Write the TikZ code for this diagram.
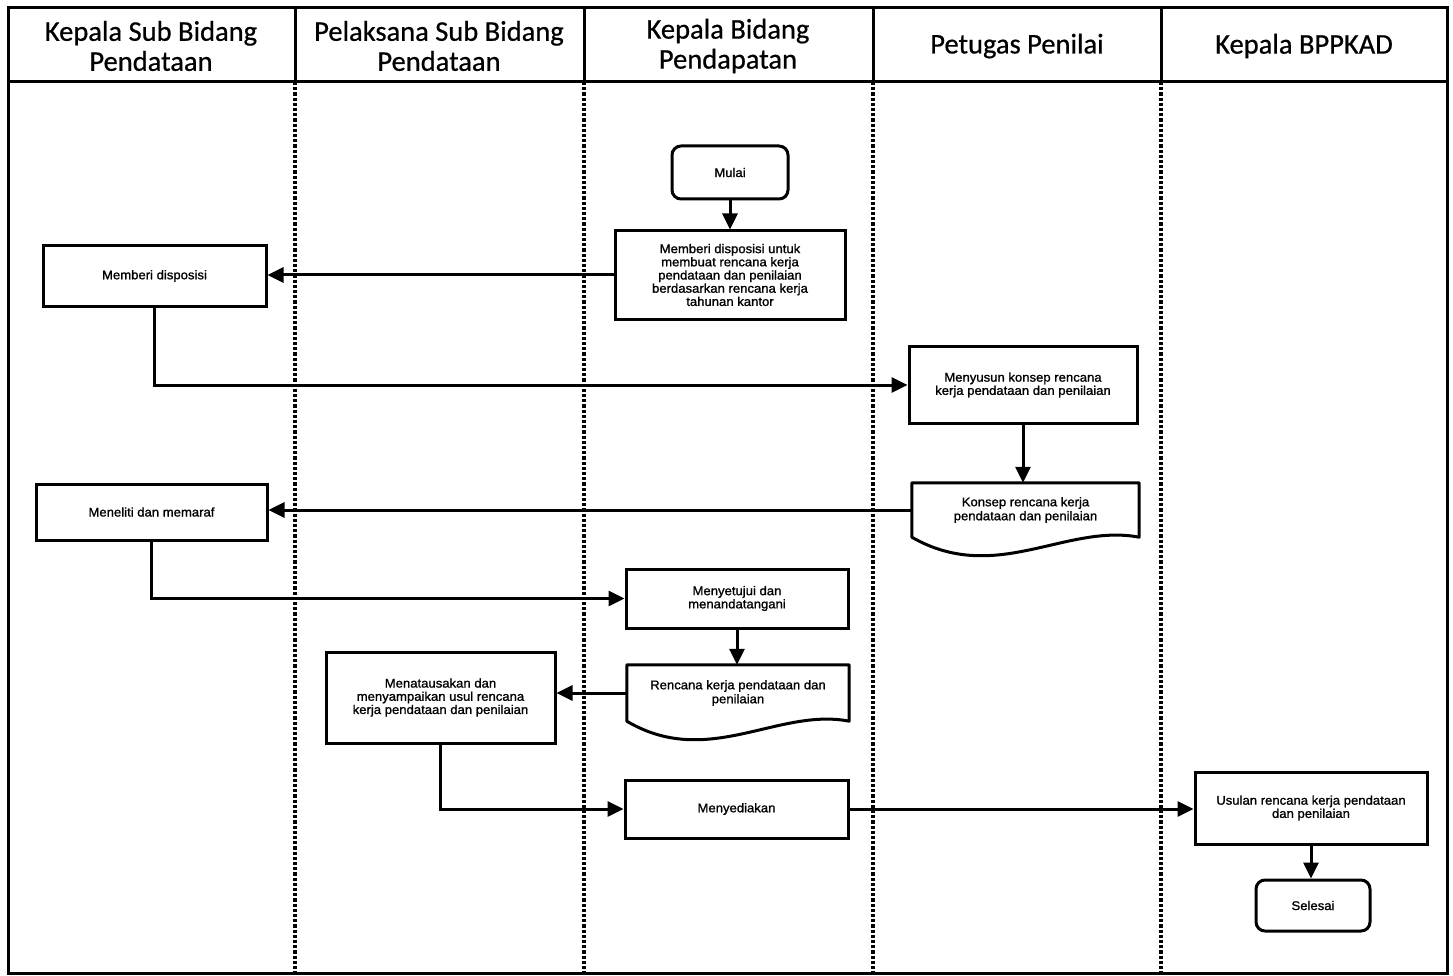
\documentclass[tikz,border=0pt]{standalone}
\usepackage{fontspec}
\usetikzlibrary{arrows.meta,calc}
\newfontfamily\headfont{Carlito}[FakeBold=0.6]
\newfontfamily\boxfont{Liberation Sans}[FakeStretch=1.04,FakeBold=1.2]

\begin{document}
\begin{tikzpicture}[x=1pt,y=-1pt,
  frame/.style={line width=3pt},
  lane/.style={line width=3.2pt, dash pattern=on 3.2pt off 2pt},
  head/.style={align=center, font=\headfont\fontsize{28.5}{30}\selectfont, inner sep=0pt},
  proc/.style={draw, line width=3pt, fill=white, align=center,
               font=\boxfont\fontsize{12.6}{13.2}\selectfont, inner sep=2pt},
  term/.style={proc, rounded corners=9pt},
  docnode/.style={align=center, font=\boxfont\fontsize{12.6}{14}\selectfont, inner sep=0pt},
  flow/.style={line width=3pt, -{Triangle[length=16pt,width=15pt]}}
]
\useasboundingbox (0,0) rectangle (1453,976);

% swimlane frame and header
\draw[frame] (8,8) rectangle (1447,973);
\draw[frame] (8,82) -- (1447,82);
\foreach \xx in {295,584,873,1161} {
  \draw[frame] (\xx,8) -- (\xx,82);
  \draw[lane] (\xx,82) -- (\xx,973);
}
\node[head] (h1) at (151,46) {Kepala Sub Bidang\\Pendataan};
\node[head] (h2) at (439,46) {Pelaksana Sub Bidang\\Pendataan};
\node[head] (h3) at (728,46) {Kepala Bidang\\Pendapatan};
\node[head] (h4) at (1017,46) {Petugas Penilai};
\node[head] (h5) at (1304,46) {Kepala BPPKAD};

% process steps
\node[term, minimum width=116pt, minimum height=53pt] (mulai) at (730,172.5) {Mulai};
\node[proc, minimum width=230pt, minimum height=88pt] (dispo) at (730,275)
  {Memberi disposisi untuk\\membuat rencana kerja\\pendataan dan penilaian\\berdasarkan rencana kerja\\tahunan kantor};
\node[proc, minimum width=223pt, minimum height=61pt] (beri) at (154.5,276) {Memberi disposisi};
\node[proc, minimum width=228pt, minimum height=77pt] (susun) at (1023,385)
  {Menyusun konsep rencana\\kerja pendataan dan penilaian};
\node[docnode, minimum width=227pt, minimum height=54pt] (konsep) at (1025.5,510)
  {Konsep rencana kerja\\pendataan dan penilaian};
\node[proc, minimum width=231pt, minimum height=56pt] (teliti) at (151.5,512) {Meneliti dan memaraf};
\node[proc, minimum width=222pt, minimum height=59pt] (setuju) at (737,598.5)
  {Menyetujui dan\\menandatangani};
\node[docnode, minimum width=222pt, minimum height=56pt] (renja) at (738,693)
  {Rencana kerja pendataan dan\\penilaian};
\node[proc, minimum width=229pt, minimum height=91pt] (tata) at (440.5,697.5)
  {Menatausakan dan\\menyampaikan usul rencana\\kerja pendataan dan penilaian};
\node[proc, minimum width=223pt, minimum height=58pt] (sedia) at (736.5,809) {Menyediakan};
\node[proc, minimum width=232pt, minimum height=72pt] (usul) at (1311,808)
  {Usulan rencana kerja pendataan\\dan penilaian};
\node[term, minimum width=114pt, minimum height=51pt] (selesai) at (1313,905.5) {Selesai};

% document outlines with wavy lower edge
\foreach \d in {konsep,renja} {
  \draw[line width=3pt, line join=round]
    (\d.north west) -- (\d.north east) -- (\d.south east)
    .. controls ($(\d.south)+(40,-14)$) and ($(\d.south)+(-30,48)$) .. (\d.south west)
    -- cycle;
}

% connectors
\draw[flow] (mulai) -- (dispo);
\draw[flow] (dispo.west) -- (dispo.west -| beri.east);
\draw[flow] (beri.south) |- (susun.west);
\draw[flow] (susun.south) -- (susun.south |- konsep.north);
\draw[flow] (konsep.west) -- (konsep.west -| teliti.east);
\draw[flow] (teliti.south) |- (setuju.west);
\draw[flow] (setuju.south) -- (setuju.south |- renja.north);
\draw[flow] (renja.west) -- (renja.west -| tata.east);
\draw[flow] (tata.south) |- (sedia.west);
\draw[flow] (sedia.east) -- (sedia.east -| usul.west);
\draw[flow] (usul.south) -- (usul.south |- selesai.north);
\end{tikzpicture}
\end{document}
